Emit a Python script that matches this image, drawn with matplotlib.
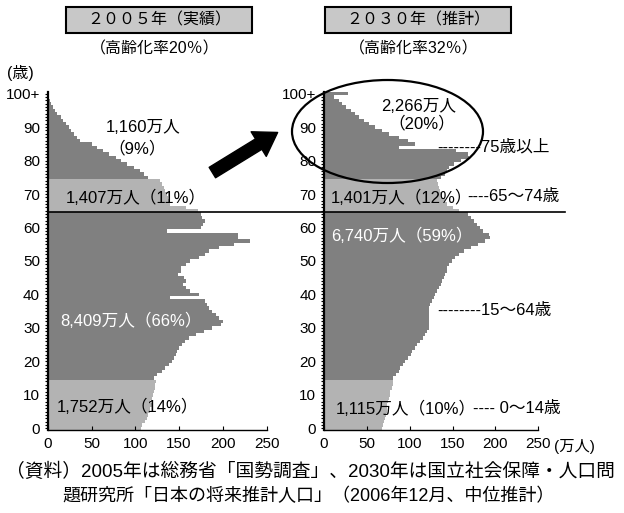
import numpy as np
import matplotlib
matplotlib.use("Agg")
import matplotlib.pyplot as plt
from matplotlib import transforms
from matplotlib.lines import Line2D
from matplotlib.patches import Ellipse, FancyArrowPatch, Rectangle

plt.rcParams["font.family"] = ["Liberation Sans", "Noto Sans CJK JP"]

# Population by single year of age (10,000 persons), ages 0..100+
pop2005_0_14 = [106, 108, 111, 113, 115, 117, 117, 119, 117, 119, 120, 121, 122, 123, 124]
pop2005_15_64 = [121, 125, 131, 134, 138, 142, 144, 146, 148, 150,
                 153, 157, 161, 169, 178, 188, 198, 200, 196, 192,
                 188, 184, 182, 180, 140, 173, 163, 158, 154, 158,
                 156, 149, 152, 152, 158, 163, 173, 179, 184, 196,
                 213, 231, 217, 217, 136, 175, 177, 179, 176, 175]
pop2005_65_74 = [172, 158, 140, 138, 137, 136, 134, 133, 131, 128]
pop2005_75 = [114, 110, 105, 98, 91, 84, 78, 70, 63, 56,
              50, 37, 33, 30, 27, 24, 21, 18, 15, 11,
              8, 6, 4, 3, 2, 2]

pop2030_0_14 = [68, 69, 70, 71, 72, 73, 74, 74, 75, 76, 77, 77, 79, 80, 80]
pop2030_15_64 = [81, 84, 87, 89, 92, 95, 98, 101, 103, 106,
                 109, 112, 115, 118, 120, 122, 123, 123, 123, 123,
                 123, 123, 124, 126, 128, 130, 132, 134, 136, 138,
                 140, 141, 143, 144, 146, 149, 153, 157, 163, 171,
                 180, 188, 194, 192, 186, 182, 178, 175, 172, 168]
pop2030_65_74 = [158, 150, 144, 141, 138, 136, 135, 134, 133, 132]
pop2030_75 = [137, 141, 144, 146, 152, 160, 169, 168, 154, 88,
              106, 98, 87, 76, 68, 60, 53, 47, 41, 36,
              31, 26, 21, 17, 12, 28]

ages = np.arange(101)
age_ticks = list(range(0, 101, 10))
age_tick_labels = [str(a) for a in age_ticks[:-1]] + ["100+"]
x_ticks = [0, 50, 100, 150, 200, 250]

DARK = "#808080"
LIGHT = "#b3b3b3"

W, H = 624, 513
fig = plt.figure(figsize=(W / 100, H / 100), dpi=100, facecolor="white")


def fx(x):
    return x / W


def fy(y):
    return 1 - y / H


ax1 = fig.add_axes([fx(47.7), fy(430), 219 / W, 338 / H])
ax2 = fig.add_axes([fx(324), fy(430), 214.3 / W, 338 / H])

panels = [
    (ax1, [pop2005_0_14, pop2005_15_64, pop2005_65_74, pop2005_75]),
    (ax2, [pop2030_0_14, pop2030_15_64, pop2030_65_74, pop2030_75]),
]
shades = [LIGHT, DARK, LIGHT, DARK]

for ax, groups in panels:
    values = np.concatenate(groups)
    colors = []
    for g, c in zip(groups, shades):
        colors += [c] * len(g)
    ax.barh(ages, values, height=1.0, color=colors, linewidth=0)
    ax.set_xlim(0, 250)
    ax.set_ylim(-0.5, 100.5)
    for s in ["top", "right"]:
        ax.spines[s].set_visible(False)
    ax.spines["left"].set_linewidth(1.6)
    ax.spines["bottom"].set_linewidth(1.0)
    ax.set_yticks(age_ticks)
    ax.set_yticklabels(age_tick_labels)
    ax.set_yticks(ages, minor=True)
    ax.tick_params(axis="y", which="both", length=2.5, width=0.8,
                   direction="out", labelsize=11, pad=3)
    ax.set_xticks(x_ticks)
    ax.tick_params(axis="x", direction="in", length=3, width=0.8,
                   labelsize=11, pad=5)
    ax.set_facecolor("none")

# boundary between working-age and elderly
trans = transforms.blended_transform_factory(fig.transFigure, ax1.transData)
fig.add_artist(Line2D([fx(48), fx(565)], [64.5, 64.5], transform=trans,
                      color="black", lw=1.2))

# title boxes
for x0, x1, title, sub in [(66, 252, "２００５年（実績）", "（高齢化率20％）"),
                           (325, 511, "２０３０年（推計）", "（高齢化率32％）")]:
    fig.add_artist(Rectangle((fx(x0), fy(33)), (x1 - x0) / W, 26 / H,
                             transform=fig.transFigure, fc="#c8c8c8",
                             ec="black", lw=1.5))
    fig.text(fx((x0 + x1) / 2), fy(20), title, ha="center", va="center",
             fontsize=11.5)
    fig.text(fx((x0 + x1) / 2 - 4), fy(49), sub, ha="center", va="center",
             fontsize=11.5)

fig.text(fx(20), fy(73), "(歳)", ha="center", va="center", fontsize=11.5)

# group labels, 2005
fig.text(fx(143), fy(128), "1,160万人", ha="center", va="center", fontsize=12)
fig.text(fx(137), fy(148), "（9%）", ha="center", va="center", fontsize=12)
fig.text(fx(136), fy(198), "1,407万人（11%）", ha="center", va="center", fontsize=12)
fig.text(fx(131), fy(321), "8,409万人（66%）", ha="center", va="center",
         fontsize=12, color="white")
fig.text(fx(128), fy(407), "1,752万人（14%）", ha="center", va="center", fontsize=12)

# group labels, 2030
fig.text(fx(419), fy(107), "2,266万人", ha="center", va="center", fontsize=12)
fig.text(fx(422), fy(123), "（20%）", ha="center", va="center", fontsize=12)
fig.text(fx(402), fy(198), "1,401万人（12%）", ha="center", va="center", fontsize=12)
fig.text(fx(402), fy(236), "6,740万人（59%）", ha="center", va="center",
         fontsize=12, color="white")
fig.text(fx(406), fy(409), "1,115万人（10%）", ha="center", va="center", fontsize=12)

# age-group leaders
fig.text(fx(437), fy(147), "--------75歳以上", ha="left", va="center", fontsize=12)
fig.text(fx(467), fy(197), "----65～74歳", ha="left", va="center", fontsize=12)
fig.text(fx(437), fy(310), "--------15～64歳", ha="left", va="center", fontsize=12)
fig.text(fx(473), fy(409), "---- 0～14歳", ha="left", va="center", fontsize=12)

fig.text(fx(554), fy(447), "(万人)", ha="left", va="center", fontsize=11)

# elderly highlight
fig.add_artist(Ellipse((fx(387.5), fy(131.5)), 191 / W, 103 / H,
                       transform=fig.transFigure, fill=False, ec="black", lw=1.6))
fig.add_artist(FancyArrowPatch((fx(210), fy(174)), (fx(280), fy(131)),
                               transform=fig.transFigure,
                               arrowstyle="simple,head_length=1.0,head_width=1.3,tail_width=0.55",
                               mutation_scale=16, color="black"))

# source note
fig.text(fx(6), fy(472), "（資料）2005年は総務省「国勢調査」、2030年は国立社会保障・人口問",
         ha="left", va="center", fontsize=13.5)
fig.text(fx(309), fy(496), "題研究所「日本の将来推計人口」（2006年12月、中位推計）",
         ha="center", va="center", fontsize=13)

fig.savefig("out.png", dpi=100, facecolor="white")
